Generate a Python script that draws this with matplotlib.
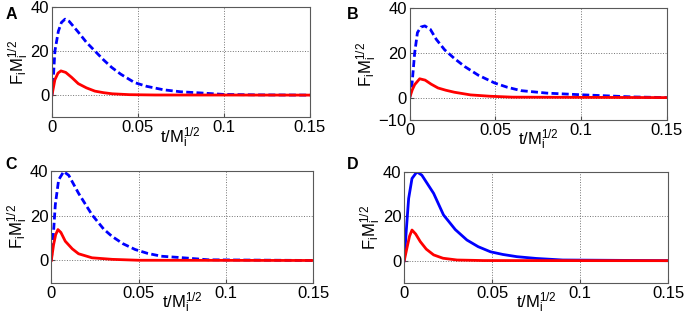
import numpy as np
import matplotlib.pyplot as plt

plt.rcParams['font.family'] = 'Liberation Sans'
plt.rcParams['mathtext.fontset'] = 'custom'
plt.rcParams['mathtext.rm'] = 'Liberation Sans'
plt.rcParams['mathtext.it'] = 'Liberation Sans'

# values (t / M_i^(1/2), F_i M_i^(1/2))
tA_blue = [0, 0.0008, 0.0017, 0.0037, 0.0055, 0.0076, 0.010, 0.0153, 0.020, 0.025,
           0.030, 0.0347, 0.040, 0.048, 0.055, 0.065, 0.075, 0.086, 0.1, 0.12, 0.15]
fA_blue = [0, 8, 20, 29, 33, 34.5, 33.5, 28.6, 24, 20,
           16, 12.6, 9.5, 5.7, 4, 2.4, 1.5, 1, 0.3, 0.1, 0]
tA_red = [0, 0.0017, 0.0035, 0.0052, 0.008, 0.0115, 0.0153, 0.020, 0.025, 0.030,
          0.035, 0.045, 0.06, 0.15]
fA_red = [0, 7, 10, 11, 10.3, 8, 5.2, 3.3, 1.8, 1.1, 0.6, 0.2, 0.05, 0]

tB_blue = [0, 0.0014, 0.0029, 0.0045, 0.0065, 0.0088, 0.012, 0.0155, 0.0204, 0.026,
           0.032, 0.04, 0.0496, 0.057, 0.065, 0.08, 0.099, 0.13, 0.15]
fB_blue = [0, 6.6, 20, 29, 31.5, 32, 30.5, 26, 21.3, 17.5,
           13.9, 10, 6.5, 4.6, 3.1, 2, 1.3, 0.3, 0]
tB_red = [0, 0.0015, 0.0029, 0.0058, 0.009, 0.0125, 0.0165, 0.021, 0.026, 0.0355,
          0.047, 0.06, 0.15]
fB_red = [0, 3.5, 5.8, 8.4, 7.8, 6, 4.3, 3.3, 2.4, 1.2, 0.6, 0.2, 0]

tC_blue = [0, 0.0013, 0.0023, 0.0042, 0.0071, 0.010, 0.0156, 0.0233, 0.030, 0.0347,
           0.041, 0.048, 0.055, 0.063, 0.074, 0.09, 0.15]
fC_blue = [0, 13, 24.9, 36, 39.7, 38, 30, 20.4, 14, 10.8,
           7.5, 4.9, 3.2, 1.9, 1.3, 0.3, 0]
tC_red = [0, 0.0013, 0.0025, 0.0038, 0.0055, 0.008, 0.012, 0.0156, 0.0233, 0.035,
          0.05, 0.15]
fC_red = [0, 7, 11.5, 13.8, 12.5, 8.6, 5.2, 3, 1.2, 0.5, 0.1, 0]

tD_blue = [0, 0.0011, 0.0025, 0.0044, 0.0072, 0.010, 0.0167, 0.0223, 0.029, 0.0356,
           0.042, 0.049, 0.056, 0.064, 0.075, 0.09, 0.15]
fD_blue = [0, 13, 28, 37, 40, 38.5, 30.3, 20.6, 14, 9.3,
           6.3, 4, 2.8, 1.8, 1, 0.3, 0]
tD_red = [0, 0.0015, 0.003, 0.0044, 0.0065, 0.0091, 0.0125, 0.0167, 0.022, 0.03,
          0.045, 0.15]
fD_red = [0, 5.6, 11, 13.8, 12, 8.6, 5.2, 2.6, 1.1, 0.3, 0.05, 0]

letters = ['A', 'B', 'C', 'D']
blue_t = [tA_blue, tB_blue, tC_blue, tD_blue]
blue_f = [fA_blue, fB_blue, fC_blue, fD_blue]
red_t = [tA_red, tB_red, tC_red, tD_red]
red_f = [fA_red, fB_red, fC_red, fD_red]
blue_ls = [(0, (2.5, 1.2)), (0, (2.5, 1.2)), (0, (2.5, 1.2)), '-']
yticks = [[0, 20, 40], [-10, 0, 20, 40], [0, 20, 40], [0, 20, 40]]

# axes boxes in figure fractions [left, bottom, width, height]
boxes = [[0.076, 0.634, 0.377, 0.344],
         [0.599, 0.625, 0.376, 0.350],
         [0.075, 0.116, 0.383, 0.350],
         [0.591, 0.116, 0.386, 0.347]]
letter_pos = [(0.008, 0.978), (0.507, 0.978), (0.008, 0.508), (0.507, 0.508)]

fig = plt.figure(figsize=(6.84, 3.2), dpi=100)
for i in range(4):
    ax = fig.add_axes(boxes[i])
    ax.plot(blue_t[i], blue_f[i], color='blue', lw=2, ls=blue_ls[i])
    ax.plot(red_t[i], red_f[i], color='red', lw=2)
    ax.set_xlim(0, 0.15)
    ax.set_ylim(-10, 40)
    ax.set_xticks([0, 0.05, 0.1, 0.15])
    ax.set_xticklabels(['0', '0.05', '0.1', '0.15'])
    ax.set_yticks(yticks[i])
    ax.grid(True, ls=':', color='0.45', lw=0.7)
    ax.tick_params(direction='in', length=3, labelsize=12, pad=2, color='0.3')
    for s in ax.spines.values():
        s.set_color('0.35')
        s.set_linewidth(0.8)
    ax.set_xlabel(r'$\mathregular{t/M_i^{1/2}}$', fontsize=12, labelpad=-7)
    ax.set_ylabel(r'$\mathregular{F_iM_i^{1/2}}$', fontsize=12, labelpad=0)
    fig.text(letter_pos[i][0], letter_pos[i][1], letters[i], fontsize=11.5,
             fontweight='bold', va='top', ha='left')

fig.savefig('out.png', dpi=100)
